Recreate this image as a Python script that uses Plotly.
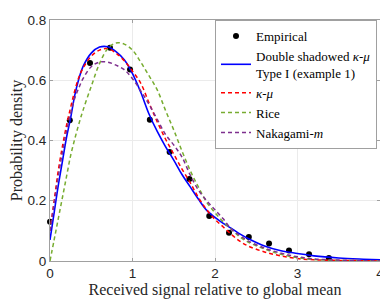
import plotly.graph_objects as go

# Empirical points
emp_x = [0.0, 0.24, 0.485, 0.727, 0.97, 1.21, 1.45, 1.69, 1.93, 2.17, 2.41, 2.655, 2.897, 3.14, 3.38]
emp_y = [0.13, 0.467, 0.657, 0.708, 0.636, 0.469, 0.362, 0.272, 0.149, 0.094, 0.080, 0.058, 0.035, 0.022, 0.010]

# Curves
cx = [0.0, 0.05, 0.1, 0.15, 0.2, 0.25, 0.3, 0.35, 0.4, 0.5, 0.6, 0.7, 0.8, 0.9, 1.0,
      1.1, 1.2, 1.3, 1.4, 1.5, 1.6, 1.7, 1.8, 1.9, 2.0, 2.1, 2.2, 2.3, 2.4, 2.6,
      2.8, 3.0, 3.2, 3.5, 3.8, 4.0]
blue_y = [0.07, 0.16, 0.25, 0.33, 0.41, 0.475, 0.55, 0.605, 0.645, 0.69, 0.71, 0.711, 0.695, 0.668, 0.622,
          0.56, 0.488, 0.43, 0.38, 0.335, 0.287, 0.246, 0.205, 0.168, 0.145, 0.125, 0.108, 0.09, 0.075, 0.05,
          0.034, 0.025, 0.017, 0.01, 0.006, 0.004]
red_y = [0.10, 0.20, 0.30, 0.38, 0.45, 0.51, 0.565, 0.61, 0.64, 0.68, 0.70, 0.705, 0.69, 0.665, 0.63,
         0.59, 0.525, 0.462, 0.405, 0.355, 0.305, 0.26, 0.21, 0.17, 0.138, 0.113, 0.088, 0.066, 0.05, 0.03,
         0.017, 0.008, 0.004, 0.002, 0.001, 0.0]
green_y = [0.0, 0.07, 0.14, 0.21, 0.28, 0.35, 0.405, 0.455, 0.50, 0.58, 0.655, 0.705, 0.724, 0.72, 0.70,
           0.66, 0.615, 0.568, 0.50, 0.435, 0.365, 0.30, 0.245, 0.195, 0.16, 0.13, 0.105, 0.08, 0.063, 0.04,
           0.022, 0.011, 0.005, 0.002, 0.001, 0.0]
purple_y = [0.10, 0.19, 0.28, 0.36, 0.43, 0.49, 0.54, 0.575, 0.605, 0.645, 0.66, 0.66, 0.65, 0.635, 0.605,
            0.565, 0.52, 0.47, 0.42, 0.385, 0.345, 0.285, 0.235, 0.2, 0.17, 0.14, 0.105, 0.085, 0.067, 0.043,
            0.026, 0.014, 0.007, 0.003, 0.001, 0.0]

x_ticks = [0, 1, 2, 3, 4]
y_ticks = [0, 0.2, 0.4, 0.6, 0.8]
y_tick_text = ["0", "0.2", "0.4", "0.6", "0.8"]

serif = "Liberation Serif"
sans = "Liberation Sans"

fig = go.Figure()
fig.add_trace(go.Scatter(x=emp_x, y=emp_y, mode="markers", name="Empirical", cliponaxis=False,
                         marker=dict(color="black", size=6)))
fig.add_trace(go.Scatter(x=cx, y=blue_y, mode="lines", line_shape="spline",
                         name="Double shadowed <i>κ</i>-<i>μ</i><br>Type I (example 1)",
                         line=dict(color="#0000FF", width=1.6)))
fig.add_trace(go.Scatter(x=cx, y=red_y, mode="lines", line_shape="spline",
                         name="<i>κ</i>-<i>μ</i>",
                         line=dict(color="#FF0000", width=1.5, dash="4px,3px")))
fig.add_trace(go.Scatter(x=cx, y=green_y, mode="lines", line_shape="spline",
                         name="Rice",
                         line=dict(color="#77AC30", width=1.5, dash="4px,3px")))
fig.add_trace(go.Scatter(x=cx, y=purple_y, mode="lines", line_shape="spline",
                         name="Nakagami-<i>m</i>",
                         line=dict(color="#7E2F8E", width=1.5, dash="4px,3px")))

axis_common = dict(showline=True, linecolor="#A0A0A0", linewidth=1, mirror="ticks",
                   ticks="inside", ticklen=3, tickcolor="#A0A0A0", automargin=False,
                   showgrid=True, gridcolor="#EBEBEB", gridwidth=1, zeroline=False,
                   tickfont=dict(family=sans, size=13.5, color="#262626"))

fig.update_layout(
    width=380, height=299,
    margin=dict(l=42, r=8, t=12, b=46),
    paper_bgcolor="white", plot_bgcolor="white",
    showlegend=True,
    legend=dict(x=0.5, y=1.0, xanchor="left", yanchor="top",
                bgcolor="white", bordercolor="#A0A0A0", borderwidth=1,
                font=dict(family=serif, size=13, color="black"),
                itemwidth=30, tracegroupgap=0),
    xaxis=dict(range=[0, 4], tickvals=x_ticks,
               title=dict(text="Received signal relative to global mean",
                          font=dict(family=serif, size=16, color="#262626"), standoff=2),
               **axis_common),
    yaxis=dict(range=[0, 0.8], tickvals=y_ticks, ticktext=y_tick_text,
               title=dict(text="Probability density",
                          font=dict(family=serif, size=16, color="#262626"), standoff=0),
               **axis_common),
)

fig.write_html("out.html")
